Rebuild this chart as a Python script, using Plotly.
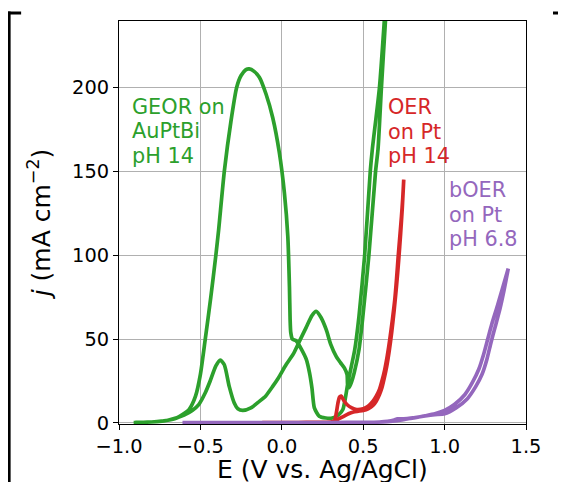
import plotly.graph_objects as go

# ---------------- data ----------------
# GEOR on AuPtBi, pH 14 (green) - anodic sweep
geor_fwd_E = [-0.91, -0.85, -0.80, -0.75, -0.70, -0.65, -0.61, -0.57, -0.53, -0.50, -0.47, -0.436,
              -0.405, -0.388, -0.353, -0.312, -0.277, -0.25, -0.22, -0.20, -0.17, -0.138, -0.097,
              -0.056, -0.015, 0.016, 0.037, 0.047, 0.051, 0.055, 0.065, 0.088, 0.12, 0.15, 0.17,
              0.185, 0.20, 0.23, 0.27, 0.31, 0.35, 0.375, 0.396, 0.406, 0.448, 0.474, 0.509,
              0.5435, 0.556, 0.60, 0.63, 0.64]
geor_fwd_j = [0.3, 0.4, 0.6, 0.9, 1.6, 2.8, 5, 8, 16, 29, 50, 75,
              100, 115, 150, 180, 200, 207, 210.5, 211, 209.5, 206, 196,
              182, 161, 137, 111, 81, 62, 54, 50, 49, 44, 38, 30,
              21, 9, 4, 3, 3, 5, 8, 18, 24, 43.6, 63.5, 100,
              150, 163, 200, 240, 255]
# GEOR - cathodic sweep
geor_rev_E = [0.648, 0.637, 0.612, 0.591, 0.576, 0.535, 0.498, 0.474, 0.445, 0.427, 0.413, 0.405,
              0.401, 0.385, 0.36, 0.334, 0.30, 0.273, 0.24, 0.211, 0.185, 0.15, 0.108, 0.07,
              0.026, -0.02, -0.056, -0.10, -0.138, -0.19, -0.24, -0.27, -0.292, -0.323, -0.353,
              -0.378, -0.405, -0.44, -0.47, -0.51, -0.55, -0.60, -0.70, -0.80, -0.90]
geor_rev_j = [255, 240, 200, 163, 150, 100, 63.5, 43.6, 30, 24, 21, 22,
              28.8, 32.7, 36, 39.7, 47, 55.6, 63, 66.5, 64, 57, 48.6, 41,
              34.7, 27, 21.8, 16, 12.9, 9, 7.5, 8.5, 11.9, 21.8, 34.7,
              37.5, 34, 25, 18, 11, 7.5, 4.8, 1.6, 0.6, 0.4]

# OER on Pt, pH 14 (red)
oer_fwd_E = [-0.12, 0.0, 0.1, 0.2, 0.3, 0.324, 0.335, 0.345, 0.355, 0.365, 0.38, 0.40, 0.43,
             0.46, 0.50, 0.53, 0.56, 0.58, 0.60, 0.615, 0.632, 0.648, 0.663, 0.68, 0.694,
             0.705, 0.715, 0.725, 0.735, 0.743, 0.749]
oer_fwd_j = [0.2, 0.3, 0.3, 0.4, 0.6, 1.5, 6, 12, 15.5, 16, 13.5, 11, 9,
             8, 8.5, 10, 13, 16, 20, 25, 31.7, 40, 49.6, 62, 73.4,
             86, 99.2, 111, 123, 134, 145]
oer_rev_E = [0.749, 0.74, 0.73, 0.718, 0.705, 0.69, 0.675, 0.66, 0.645, 0.63, 0.615, 0.60,
             0.58, 0.56, 0.53, 0.50, 0.47, 0.44, 0.41, 0.38, 0.35, 0.33, 0.30, 0.2, 0.1,
             0.0, -0.12]
oer_rev_j = [145, 128, 113, 97, 82, 67, 54, 43, 34, 27, 21, 17,
             13, 10.5, 8.5, 7.5, 7, 6.5, 5.5, 4, 2.5, 1, 0.5, 0.3, 0.2,
             0.2, 0.2]

# bOER on Pt, pH 6.8 (purple)
boer_fwd_E = [-0.61, -0.3, 0.0, 0.3, 0.5, 0.6, 0.65, 0.69, 0.71, 0.73, 0.77, 0.82, 0.88, 0.94,
              1.0, 1.07, 1.14, 1.19, 1.23, 1.26, 1.285, 1.31, 1.34, 1.365, 1.391]
boer_fwd_j = [0.2, 0.2, 0.3, 0.3, 0.4, 0.6, 1.0, 1.8, 2.5, 2.4, 2.6, 3.2, 4.2, 5.0,
              5.5, 9, 14.5, 21.5, 29, 38, 48, 57, 68, 79, 92]
boer_rev_E = [1.391, 1.355, 1.325, 1.29, 1.265, 1.24, 1.21, 1.17, 1.125, 1.06, 1.0, 0.94,
              0.88, 0.82, 0.76, 0.71, 0.65, 0.55, 0.3, 0.0, -0.3, -0.6]
boer_rev_j = [92, 80, 70, 59, 50, 41, 32, 24, 17, 11, 7.5, 5.5,
              4.3, 3.2, 2.2, 1.4, 0.8, 0.4, 0.3, 0.2, 0.2, 0.2]

x_ticks = [-1.0, -0.5, 0.0, 0.5, 1.0, 1.5]
x_tick_text = ["\u22121.0", "\u22120.5", "0.0", "0.5", "1.0", "1.5"]
y_ticks = [0, 50, 100, 150, 200]
x_title = "E (V vs. Ag/AgCl)"
y_title = "<i>j</i> (mA cm<sup>\u22122</sup>)"

GREEN = "#2ca02c"
RED = "#d62728"
PURPLE = "#9467bd"
FONT = "DejaVu Sans"

fig = go.Figure()
for E, j, c in [(geor_fwd_E + geor_rev_E, geor_fwd_j + geor_rev_j, GREEN),
                (oer_fwd_E + oer_rev_E, oer_fwd_j + oer_rev_j, RED),
                (boer_fwd_E + boer_rev_E, boer_fwd_j + boer_rev_j, PURPLE)]:
    fig.add_trace(go.Scatter(x=E, y=j, mode="lines",
                             line=dict(color=c, width=3.7, shape="spline", smoothing=0.6),
                             showlegend=False, hoverinfo="skip"))

# text labels (one annotation per line)
labels = [
    (-0.929, [188.4, 173.7, 159.1], ["GEOR on", "AuPtBi", "pH 14"], GREEN),
    (0.648, [188.3, 173.5, 159.1], ["OER", "on Pt", "pH 14"], RED),
    (1.021, [138.6, 123.9, 109.4], ["bOER", "on Pt", "pH 6.8"], PURPLE),
]
for x0, ys, texts, c in labels:
    for yy, t in zip(ys, texts):
        fig.add_annotation(x=x0, y=yy, text=t, showarrow=False, xanchor="left", yanchor="middle",
                           font=dict(family=FONT, size=20.8, color=c), borderpad=0)

# page offset: the browser puts the figure 8 px from the top-left corner
PLOT_L, PLOT_R, PLOT_T, PLOT_B = 119.3, 526.0, 21.0, 424.3


def px_x(p):
    return (p - PLOT_L) / (PLOT_R - PLOT_L)


def px_y(p):
    return (PLOT_B - p) / (PLOT_B - PLOT_T)


# x-axis title (placed as paper annotation so it can sit right at the bottom edge)
fig.add_annotation(xref="paper", yref="paper", x=0.5, y=px_y(469.6), text=x_title,
                   showarrow=False, xanchor="center", yanchor="middle", borderpad=0,
                   font=dict(family=FONT, size=25, color="black"))

frame = dict(type="line", xref="paper", yref="paper", line=dict(color="black", width=3), layer="above")
fig.add_shape(**frame, x0=px_x(9.5), x1=px_x(9.5), y0=px_y(11.5), y1=px_y(495))
fig.add_shape(**frame, x0=px_x(8), x1=px_x(21.5), y0=px_y(13), y1=px_y(13))
fig.add_shape(**frame, x0=px_x(553), x1=px_x(580), y0=px_y(13), y1=px_y(13))

axis_common = dict(showline=True, linecolor="black", linewidth=1.1, mirror=True,
                   ticks="outside", ticklen=5, tickwidth=1.1, tickcolor="black",
                   showgrid=True, gridcolor="#b0b0b0", gridwidth=1.1,
                   tickfont=dict(family=FONT, size=19.4, color="black"))

fig.update_xaxes(range=[-1.0, 1.5], tickvals=x_ticks, ticktext=x_tick_text, zeroline=False,
                 **axis_common)
fig.update_yaxes(range=[-0.6, 239.5], tickvals=y_ticks, zeroline=False,
                 title=dict(text=y_title, font=dict(family=FONT, size=25, color="black"), standoff=14),
                 **axis_common)

W, H = 558, 474
fig.update_layout(width=W, height=H,
                  margin=dict(l=PLOT_L - 8, r=W - (PLOT_R - 8), t=PLOT_T - 8,
                              b=H - (PLOT_B - 8), autoexpand=False),
                  paper_bgcolor="white", plot_bgcolor="white",
                  font=dict(family=FONT, color="black"))

fig.write_html("out.html")
